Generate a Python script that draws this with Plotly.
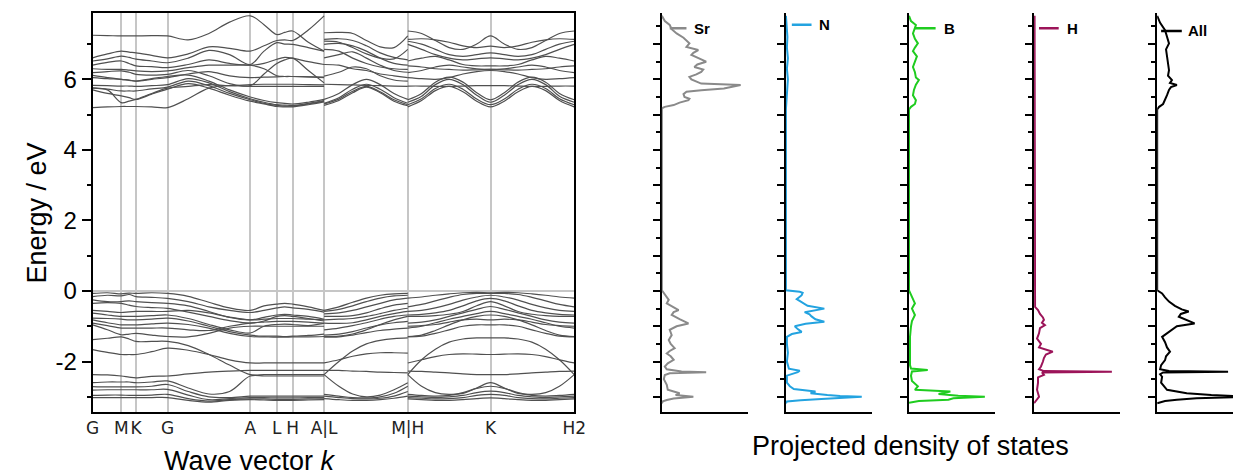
import plotly.graph_objects as go

# ---------------- Band structure data ----------------
k_pos = [0, 29, 44, 76, 160, 187, 203, 235, 320, 404, 489]
k_labels = ["G", "M", "K", "G", "A", "L", "H", "A|L", "M|H", "K", "H2"]

# piece 1: G-M-K-G-A-L-H-A
x_p1 = [0, 15, 29, 37, 44, 60, 76, 97, 118, 139, 160, 174, 187, 195, 203, 219, 235]
bands_p1 = [
    [7.25, 7.24, 7.23, 7.23, 7.23, 7.24, 7.23, 7.12, 7.30, 7.62, 7.80, 7.55, 7.27, 7.33, 7.37, 7.05, 6.80],
    [6.61, 6.72, 6.80, 6.77, 6.75, 6.68, 6.61, 6.72, 6.92, 6.88, 6.80, 6.95, 7.10, 7.12, 7.10, 7.40, 7.80],
    [6.52, 6.58, 6.66, 6.62, 6.57, 6.52, 6.47, 6.60, 6.82, 6.70, 6.42, 6.80, 7.04, 7.00, 6.99, 6.90, 6.80],
    [6.40, 6.48, 6.52, 6.45, 6.38, 6.36, 6.33, 6.42, 6.55, 6.45, 6.40, 6.45, 6.57, 6.62, 6.60, 6.50, 6.42],
    [6.30, 6.28, 6.28, 6.26, 6.24, 6.22, 6.24, 6.33, 6.40, 6.40, 6.40, 6.30, 6.10, 6.08, 6.08, 6.07, 6.05],
    [6.19, 6.22, 6.24, 6.20, 6.14, 6.12, 6.14, 6.25, 6.10, 5.88, 5.82, 6.15, 6.45, 6.55, 6.60, 6.25, 5.90],
    [6.11, 6.05, 6.00, 5.98, 5.95, 6.02, 6.08, 6.12, 5.95, 5.70, 5.50, 5.40, 5.34, 5.32, 5.30, 5.35, 5.43],
    [5.83, 5.82, 5.81, 5.81, 5.80, 5.82, 5.85, 6.02, 5.90, 5.65, 5.45, 5.35, 5.28, 5.27, 5.26, 5.32, 5.40],
    [5.76, 5.72, 5.67, 5.67, 5.67, 5.73, 5.78, 5.95, 5.82, 5.60, 5.42, 5.32, 5.26, 5.24, 5.24, 5.30, 5.38],
    [5.70, 5.60, 5.53, 5.48, 5.43, 5.58, 5.72, 5.88, 5.75, 5.55, 5.38, 5.30, 5.23, 5.22, 5.22, 5.28, 5.36],
    [5.20, 5.22, 5.23, 5.23, 5.23, 5.22, 5.20, 5.45, 5.75, 5.82, 5.80, 5.80, 5.80, 5.80, 5.80, 5.80, 5.80],
    [5.75, 5.70, 5.34, 5.38, 5.43, 5.60, 5.75, 5.80, 5.85, 5.82, 5.85, 5.86, 5.86, 5.86, 5.86, 5.85, 5.84],
    [6.05, 6.02, 6.00, 5.97, 5.95, 6.00, 6.05, 6.15, 6.22, 6.10, 6.05, 6.06, 6.07, 6.08, 6.08, 6.07, 6.06],
    [-0.07, -0.05, -0.08, -0.06, -0.07, -0.05, -0.07, -0.15, -0.32, -0.48, -0.55, -0.42, -0.37, -0.35, -0.37, -0.45, -0.55],
    [-0.16, -0.12, -0.14, -0.10, -0.16, -0.18, -0.21, -0.30, -0.45, -0.55, -0.61, -0.55, -0.48, -0.45, -0.48, -0.52, -0.60],
    [-0.25, -0.30, -0.30, -0.28, -0.30, -0.33, -0.35, -0.42, -0.58, -0.75, -0.82, -0.75, -0.68, -0.66, -0.68, -0.72, -0.80],
    [-0.35, -0.33, -0.35, -0.40, -0.44, -0.47, -0.49, -0.60, -0.72, -0.84, -0.91, -0.85, -0.72, -0.70, -0.72, -0.78, -0.85],
    [-0.55, -0.58, -0.61, -0.59, -0.58, -0.58, -0.58, -0.55, -0.62, -0.74, -0.82, -0.80, -0.78, -0.78, -0.78, -0.80, -0.82],
    [-0.63, -0.68, -0.72, -0.72, -0.72, -0.70, -0.68, -0.78, -0.95, -1.10, -1.19, -1.00, -0.95, -0.94, -0.95, -0.98, -0.92],
    [-0.77, -0.78, -0.80, -0.82, -0.82, -0.80, -0.77, -0.85, -1.00, -1.15, -1.25, -1.28, -1.28, -1.29, -1.28, -1.26, -1.22],
    [-0.82, -0.90, -0.96, -0.96, -0.96, -0.93, -0.91, -0.95, -1.05, -1.20, -1.29, -1.30, -1.31, -1.31, -1.30, -1.30, -1.29],
    [-0.91, -0.98, -1.05, -1.05, -1.05, -1.05, -1.05, -1.10, -1.12, -1.00, -0.91, -0.88, -0.86, -0.86, -0.86, -0.88, -0.91],
    [-0.96, -1.10, -1.24, -1.22, -1.20, -1.25, -1.29, -1.30, -1.20, -1.05, -1.00, -1.00, -1.00, -1.00, -1.00, -1.00, -1.00],
    [-1.38, -1.34, -1.30, -1.36, -1.43, -1.43, -1.43, -1.55, -1.80, -2.10, -2.37, -2.37, -2.37, -2.37, -2.37, -2.37, -2.37],
    [-1.66, -1.74, -1.80, -1.80, -1.80, -1.72, -1.62, -1.68, -1.80, -1.95, -2.04, -2.04, -2.04, -2.04, -2.04, -2.04, -2.04],
    [-2.37, -2.38, -2.41, -2.44, -2.46, -2.42, -2.41, -2.35, -2.30, -2.27, -2.25, -2.25, -2.25, -2.25, -2.25, -2.25, -2.25],
    [-2.60, -2.58, -2.58, -2.58, -2.60, -2.58, -2.55, -2.75, -2.92, -2.85, -2.41, -2.41, -2.41, -2.41, -2.41, -2.41, -2.41],
    [-2.71, -2.72, -2.72, -2.72, -2.72, -2.70, -2.65, -2.85, -3.00, -3.02, -2.98, -2.98, -2.98, -2.98, -2.98, -2.98, -2.98],
    [-2.81, -2.80, -2.80, -2.80, -2.80, -2.80, -2.79, -2.95, -3.08, -3.05, -3.02, -3.02, -3.03, -3.03, -3.03, -3.02, -3.02],
    [-2.96, -2.95, -2.95, -2.96, -2.96, -2.95, -2.93, -3.05, -3.12, -3.08, -3.06, -3.06, -3.07, -3.07, -3.07, -3.06, -3.06],
    [-3.02, -3.02, -3.02, -3.02, -3.02, -3.02, -3.02, -3.10, -3.15, -3.10, -3.08, -3.09, -3.10, -3.10, -3.10, -3.09, -3.08],
]

# piece 2: L-M
x_p2 = [235, 250, 264, 278, 292, 306, 320]
bands_p2 = [
    [7.32, 7.33, 7.30, 7.10, 6.92, 6.90, 7.23],
    [7.13, 7.15, 7.10, 6.95, 6.75, 6.62, 6.55],
    [7.08, 7.05, 6.90, 6.72, 6.60, 6.58, 6.85],
    [6.99, 7.02, 6.95, 6.80, 6.60, 6.45, 6.40],
    [6.85, 6.80, 6.60, 6.45, 6.35, 6.30, 6.28],
    [6.61, 6.70, 6.78, 6.60, 6.40, 6.25, 6.20],
    [6.42, 6.40, 6.30, 6.25, 6.15, 6.10, 6.05],
    [6.09, 6.20, 6.35, 6.30, 6.10, 5.98, 5.95],
    [5.86, 5.85, 5.84, 5.83, 5.82, 5.81, 5.80],
    [5.43, 5.60, 5.85, 6.00, 5.85, 5.60, 5.43],
    [5.32, 5.48, 5.72, 5.86, 5.72, 5.48, 5.32],
    [5.26, 5.40, 5.62, 5.78, 5.62, 5.38, 5.25],
    [5.30, 5.44, 5.66, 5.80, 5.65, 5.42, 5.28],
    [-0.55, -0.45, -0.32, -0.20, -0.12, -0.08, -0.07],
    [-0.58, -0.52, -0.42, -0.30, -0.20, -0.14, -0.12],
    [-0.65, -0.62, -0.55, -0.45, -0.35, -0.25, -0.20],
    [-0.72, -0.72, -0.70, -0.62, -0.50, -0.40, -0.35],
    [-0.82, -0.80, -0.78, -0.72, -0.64, -0.55, -0.49],
    [-0.91, -0.92, -0.90, -0.82, -0.72, -0.64, -0.58],
    [-1.10, -1.05, -0.98, -0.90, -0.80, -0.72, -0.68],
    [-1.29, -1.28, -1.22, -1.10, -0.95, -0.82, -0.72],
    [-1.25, -1.22, -1.15, -1.05, -0.96, -0.90, -0.86],
    [-1.31, -1.30, -1.25, -1.18, -1.12, -1.08, -1.05],
    [-2.37, -2.00, -1.70, -1.50, -1.40, -1.35, -1.33],
    [-2.04, -1.95, -1.85, -1.78, -1.75, -1.75, -1.76],
    [-2.25, -2.25, -2.27, -2.28, -2.30, -2.31, -2.32],
    [-2.37, -2.70, -2.92, -3.00, -2.95, -2.80, -2.60],
    [-2.93, -2.98, -3.02, -3.03, -3.00, -2.90, -2.70],
    [-2.98, -3.02, -3.05, -3.06, -3.04, -2.98, -2.85],
    [-3.05, -3.08, -3.10, -3.10, -3.08, -3.04, -2.98],
]

# piece 3: H-K-H2
x_p3 = [320, 334, 348, 362, 376, 390, 404, 418, 432, 446, 460, 474, 489]
bands_p3 = [
    [5.22, 5.40, 5.68, 5.80, 5.65, 5.38, 5.22, 5.38, 5.65, 5.80, 5.68, 5.40, 5.22],
    [5.28, 5.45, 5.74, 5.86, 5.72, 5.44, 5.28, 5.44, 5.72, 5.86, 5.74, 5.45, 5.28],
    [5.35, 5.52, 5.85, 6.00, 5.85, 5.55, 5.35, 5.55, 5.85, 6.00, 5.85, 5.52, 5.35],
    [5.42, 5.60, 5.92, 6.06, 5.92, 5.62, 5.42, 5.62, 5.92, 6.06, 5.92, 5.60, 5.42],
    [5.81, 5.81, 5.80, 5.80, 5.81, 5.82, 5.82, 5.82, 5.81, 5.80, 5.80, 5.81, 5.81],
    [6.05, 6.02, 6.00, 6.05, 6.15, 6.22, 6.25, 6.22, 6.15, 6.05, 6.00, 6.02, 6.05],
    [7.37, 7.30, 7.10, 6.90, 6.85, 7.00, 7.23, 7.00, 6.85, 6.90, 7.10, 7.30, 7.37],
    [7.13, 7.15, 7.12, 7.05, 6.95, 6.90, 6.94, 6.90, 6.95, 7.05, 7.12, 7.15, 7.13],
    [7.08, 7.00, 6.85, 6.70, 6.65, 6.70, 6.75, 6.70, 6.65, 6.70, 6.85, 7.00, 7.08],
    [6.99, 6.85, 6.70, 6.60, 6.55, 6.58, 6.61, 6.58, 6.55, 6.60, 6.70, 6.85, 6.99],
    [6.52, 6.60, 6.65, 6.55, 6.42, 6.38, 6.38, 6.38, 6.42, 6.55, 6.65, 6.60, 6.52],
    [6.38, 6.35, 6.30, 6.28, 6.26, 6.27, 6.28, 6.27, 6.26, 6.28, 6.30, 6.35, 6.38],
    [6.19, 6.25, 6.35, 6.40, 6.35, 6.30, 6.28, 6.30, 6.35, 6.40, 6.35, 6.25, 6.19],
    [-0.20, -0.17, -0.12, -0.08, -0.05, -0.04, -0.05, -0.04, -0.05, -0.08, -0.12, -0.17, -0.20],
    [-0.45, -0.38, -0.28, -0.18, -0.10, -0.07, -0.07, -0.07, -0.10, -0.18, -0.28, -0.38, -0.45],
    [-0.58, -0.55, -0.48, -0.38, -0.26, -0.17, -0.12, -0.17, -0.26, -0.38, -0.48, -0.55, -0.58],
    [-0.68, -0.66, -0.62, -0.55, -0.42, -0.28, -0.21, -0.28, -0.42, -0.55, -0.62, -0.66, -0.68],
    [-0.72, -0.72, -0.70, -0.66, -0.58, -0.42, -0.30, -0.42, -0.58, -0.66, -0.70, -0.72, -0.72],
    [-0.91, -0.88, -0.82, -0.72, -0.62, -0.52, -0.44, -0.52, -0.62, -0.72, -0.82, -0.88, -0.91],
    [-1.05, -1.00, -0.90, -0.80, -0.72, -0.64, -0.58, -0.64, -0.72, -0.80, -0.90, -1.00, -1.05],
    [-1.29, -1.25, -1.12, -0.96, -0.82, -0.72, -0.68, -0.72, -0.82, -0.96, -1.12, -1.25, -1.29],
    [-1.00, -0.98, -0.95, -0.88, -0.82, -0.80, -0.82, -0.80, -0.82, -0.88, -0.95, -0.98, -1.00],
    [-1.30, -1.28, -1.20, -1.10, -1.00, -0.96, -0.96, -0.96, -1.00, -1.10, -1.20, -1.28, -1.30],
    [-2.37, -1.95, -1.65, -1.45, -1.36, -1.33, -1.33, -1.33, -1.36, -1.45, -1.65, -1.95, -2.37],
    [-2.04, -1.95, -1.86, -1.80, -1.78, -1.79, -1.80, -1.79, -1.78, -1.80, -1.86, -1.95, -2.04],
    [-2.27, -2.28, -2.30, -2.32, -2.35, -2.37, -2.37, -2.37, -2.35, -2.32, -2.30, -2.28, -2.27],
    [-2.37, -2.70, -2.88, -2.93, -2.90, -2.75, -2.60, -2.75, -2.90, -2.93, -2.88, -2.70, -2.37],
    [-2.93, -2.96, -2.98, -2.96, -2.88, -2.76, -2.70, -2.76, -2.88, -2.96, -2.98, -2.96, -2.93],
    [-2.98, -3.00, -3.02, -3.00, -2.96, -2.88, -2.84, -2.88, -2.96, -3.00, -3.02, -3.00, -2.98],
    [-3.02, -3.04, -3.06, -3.05, -3.02, -2.96, -2.93, -2.96, -3.02, -3.05, -3.06, -3.04, -3.02],
    [-3.06, -3.08, -3.10, -3.10, -3.08, -3.05, -3.03, -3.05, -3.08, -3.10, -3.10, -3.08, -3.06],
]

# ---------------- PDOS data (energy in eV, DOS in arbitrary units) ----------------
sr_E = [7.80, 7.65, 7.54, 7.42, 7.30, 7.18, 7.02, 6.92, 6.83, 6.75, 6.69, 6.60, 6.50, 6.42, 6.35, 6.28,
        6.21, 6.14, 6.07, 6.00, 5.93, 5.88, 5.84, 5.79, 5.74, 5.69, 5.65, 5.58, 5.50, 5.45, 5.41, 5.34,
        5.27, 5.22, 5.18,
        0.02, -0.05, -0.15, -0.25, -0.35, -0.45, -0.54, -0.60, -0.68, -0.80, -0.92, -1.00, -1.10, -1.25,
        -1.39, -1.50, -1.62, -1.70, -1.77, -1.85, -1.95, -2.05, -2.14, -2.22, -2.28, -2.30, -2.33, -2.38,
        -2.50, -2.66, -2.80, -2.90, -2.95, -3.00, -3.05, -3.09, -3.13, -3.18]
sr_D = [0, 3, 8, 10, 15, 22, 28, 25, 37, 32, 30, 38, 45, 36, 33, 42,
        40, 35, 28, 30, 35, 40, 80, 70, 63, 40, 25, 22, 23, 28, 27, 18,
        12, 3, 0,
        0, 2, 4, 7, 5, 12, 17, 12, 10, 18, 27, 15, 8, 10,
        7, 9, 13, 8, 5, 9, 12, 6, 3, 5, 20, 45, 8, 3,
        2, 5, 6, 18, 14, 32, 12, 5, 1, 0]

n_E = [7.80, 7.50, 7.20, 6.90, 6.60, 6.30, 6.00, 5.80, 5.50, 5.20, 5.15,
       0.02, -0.02, -0.05, -0.12, -0.23, -0.30, -0.36, -0.42, -0.50, -0.55, -0.60, -0.66, -0.72, -0.80,
       -0.87, -0.93, -1.00, -1.08, -1.16, -1.22, -1.30, -1.50, -1.75, -2.00, -2.20, -2.26, -2.30, -2.40,
       -2.60, -2.70, -2.78, -2.85, -2.90, -2.95, -2.98, -3.00, -3.03, -3.06, -3.10, -3.13, -3.18]
n_D = [0, 1, 1.5, 1, 2, 1, 2, 1.5, 1, 0.5, 0,
       0, 14, 17, 16, 11, 15, 19, 22, 39, 28, 19, 24, 26, 30,
       39, 20, 9, 12, 16, 6, 1, 1, 2, 1, 3, 14, 12, 1,
       1, 4, 8, 30, 25, 42, 55, 77, 50, 36, 15, 1, 0]

b_E = [7.80, 7.65, 7.54, 7.40, 7.30, 7.15, 7.02, 6.90, 6.80, 6.65, 6.50, 6.35, 6.20, 6.05, 5.98, 5.85,
       5.70, 5.55, 5.41, 5.30, 5.22, 5.15,
       0.02, -0.10, -0.20, -0.35, -0.50, -0.68, -0.85, -1.00, -1.30, -1.60, -1.90, -2.10, -2.20, -2.24,
       -2.28, -2.40, -2.55, -2.70, -2.80, -2.85, -2.92, -2.97, -3.00, -3.04, -3.08, -3.12, -3.17]
b_D = [0, 2, 7, 5, 4, 6, 9, 6, 4, 8, 6, 4, 6, 7, 10, 7,
       5, 4, 7, 6, 2, 0,
       0, 2, 3, 6, 3, 6, 3, 2, 1, 1, 1, 1, 2, 19,
       3, 2, 3, 9, 6, 42, 30, 50, 77, 45, 40, 10, 0]

h_E = [7.80, 5.20,
       0.00, -0.30, -0.45, -0.54, -0.65, -0.75, -0.82, -0.90, -0.97, -1.05, -1.20, -1.35, -1.50, -1.60,
       -1.72, -1.80, -1.90, -2.00, -2.14, -2.22, -2.27, -2.29, -2.31, -2.38, -2.45, -2.60, -2.80, -3.00,
       -3.10, -3.18]
h_D = [0.5, 0.5,
       0.5, 0.5, 1, 4, 6, 9, 10, 8, 11, 6, 5, 3, 7, 5,
       19, 12, 10, 9, 7, 5, 10, 79, 8, 10, 4, 4, 3, 5,
       2, 0]

all_E = [7.80, 7.60, 7.39, 7.20, 7.02, 6.85, 6.64, 6.45, 6.26, 6.10, 5.98, 5.90, 5.84, 5.78, 5.70, 5.55,
         5.41, 5.30, 5.22, 5.15,
         0.02, -0.07, -0.18, -0.30, -0.42, -0.52, -0.58, -0.65, -0.73, -0.82, -0.92, -1.00, -1.10, -1.20,
         -1.30, -1.45, -1.60, -1.72, -1.85, -1.96, -2.10, -2.22, -2.27, -2.29, -2.31, -2.36, -2.43, -2.60,
         -2.80, -2.90, -2.95, -3.00, -3.04, -3.08, -3.12, -3.18]
all_D = [0, 3, 8, 10, 12, 9, 10, 11, 12, 11, 15, 13, 20, 14, 12, 10,
         8, 6, 2, 0,
         0, 5, 8, 12, 18, 25, 32, 24, 22, 30, 38, 20, 15, 10,
         5, 8, 10, 13, 9, 8, 4, 3, 12, 72, 6, 3, 5, 4,
         10, 30, 55, 95, 40, 20, 8, 0]

pdos = [
    ("Sr", sr_E, sr_D, "#8a8a8a"),
    ("N", n_E, n_D, "#23a3e0"),
    ("B", b_E, b_D, "#1fcc1f"),
    ("H", h_E, h_D, "#9c1459"),
    ("All", all_E, all_D, "#000000"),
]

# ---------------- Figure ----------------
W, H = 1245, 475
fig = go.Figure()

band_color = "#505050"
for xs, bands in [(x_p1, bands_p1), (x_p2, bands_p2), (x_p3, bands_p3)]:
    for b in bands:
        fig.add_trace(go.Scatter(x=xs, y=b, mode="lines", xaxis="x", yaxis="y",
                                 line=dict(color=band_color, width=1.2, shape="spline", smoothing=1.0),
                                 showlegend=False, hoverinfo="skip"))

for i, (name, E, D, col) in enumerate(pdos):
    ax = str(i + 2)
    fig.add_trace(go.Scatter(x=D, y=E, mode="lines", xaxis="x" + ax, yaxis="y" + ax,
                             line=dict(color=col, width=2), showlegend=False, name=name))

ylo, yhi = -3.43, 7.88
ydom = [63 / H, 462 / H]

def px(v):
    return v / W

layout = dict(
    width=W, height=H, autosize=False, margin=dict(l=0, r=0, t=0, b=0, pad=0),
    paper_bgcolor="white", plot_bgcolor="white",
    font=dict(family="Liberation Sans, Arial", color="black"),
    xaxis=dict(domain=[px(87), px(576)], range=[0, 489], tickvals=k_pos, ticktext=k_labels,
               ticks="", tickangle=0, showgrid=True, gridcolor="#c6c6c6", gridwidth=1.5,
               showline=True, linecolor="black", linewidth=2, mirror=True, zeroline=False,
               tickfont=dict(family="DejaVu Sans", size=17, color="#222"), anchor="y"),
    yaxis=dict(domain=ydom, range=[ylo, yhi], tickvals=[-2, 0, 2, 4, 6],
               ticktext=["-2", "0", "2", "4", "6"], ticks="outside", ticklen=9, tickwidth=2,
               tickcolor="black", showgrid=False, zeroline=True, zerolinecolor="#c6c6c6",
               zerolinewidth=2, showline=True, linecolor="black", linewidth=2, mirror=True,
               tickfont=dict(size=24), anchor="x",
               minor=dict(tickvals=[-3, -1, 1, 3, 5, 7], ticks="outside", ticklen=4,
                          tickwidth=2, tickcolor="black", showgrid=False)),
)

pd_starts = [665, 791, 916, 1043, 1168]
for i, x0 in enumerate(pd_starts):
    ax = str(i + 2)
    x1 = min(x0 + 87, W)
    layout["xaxis" + ax] = dict(domain=[px(x0), px(x1)], range=[0, x1 - x0], showline=True,
                                linecolor="black", linewidth=2, ticks="", showticklabels=False,
                                showgrid=False, zeroline=False, anchor="y" + ax)
    layout["yaxis" + ax] = dict(domain=ydom, range=[ylo, yhi], showline=True, linecolor="black",
                                linewidth=2, ticks="outside", ticklen=7, tickwidth=2,
                                tickcolor="black", tickvals=list(range(-3, 8)),
                                showticklabels=False, showgrid=False, zeroline=False,
                                layer="below traces", anchor="x" + ax,
                                minor=dict(tickvals=[-2.5, -1.5, -0.5, 0.5, 1.5, 2.5, 3.5, 4.5,
                                                     5.5, 6.5, 7.5],
                                           ticks="outside", ticklen=4, tickwidth=1.5,
                                           tickcolor="black", showgrid=False))

fig.update_layout(**layout)

# legend-like labels inside each PDOS panel
leg = [(8, 25, 7.45, 31), (6, 26, 7.55, 32), (6, 27, 7.45, 33), (5, 25, 7.45, 31), (4, 25, 7.37, 29)]
shapes = []
annots = []
for i, ((name, E, D, col), (lx0, lx1, ly, tx)) in enumerate(zip(pdos, leg)):
    ax = str(i + 2)
    shapes.append(dict(type="line", xref="x" + ax, yref="y" + ax, x0=lx0, x1=lx1, y0=ly, y1=ly,
                       line=dict(color=col, width=2.5)))
    annots.append(dict(xref="x" + ax, yref="y" + ax, x=tx, y=ly, text="<b>%s</b>" % name,
                       showarrow=False, xanchor="left", yanchor="middle",
                       font=dict(size=15, family="Liberation Sans, Arial", color="black")))

annots.append(dict(xref="paper", yref="paper", x=px(30), y=(H - 213) / H, text="Energy / eV",
                   textangle=-90, showarrow=False, xanchor="center", yanchor="middle",
                   font=dict(size=27)))
annots.append(dict(xref="paper", yref="paper", x=px(247), y=(H - 461) / H,
                   text="Wave vector <i>k</i>", showarrow=False, xanchor="center",
                   yanchor="middle", font=dict(size=27)))
annots.append(dict(xref="paper", yref="paper", x=px(917), y=(H - 446) / H,
                   text="Projected density of states", showarrow=False, xanchor="center",
                   yanchor="middle", font=dict(size=27)))

fig.update_layout(shapes=shapes, annotations=annots)

post = ("document.body.style.margin='0';document.body.style.padding='0';"
        "document.body.style.overflow='hidden';"
        "var gd=document.getElementById('{plot_id}');"
        "gd.style.position='absolute';gd.style.left='0px';gd.style.top='0px';"
        "Plotly.relayout(gd,{width:1245,height:475});")
fig.write_html("out.html", config={"responsive": False, "displayModeBar": False},
               post_script=post)
